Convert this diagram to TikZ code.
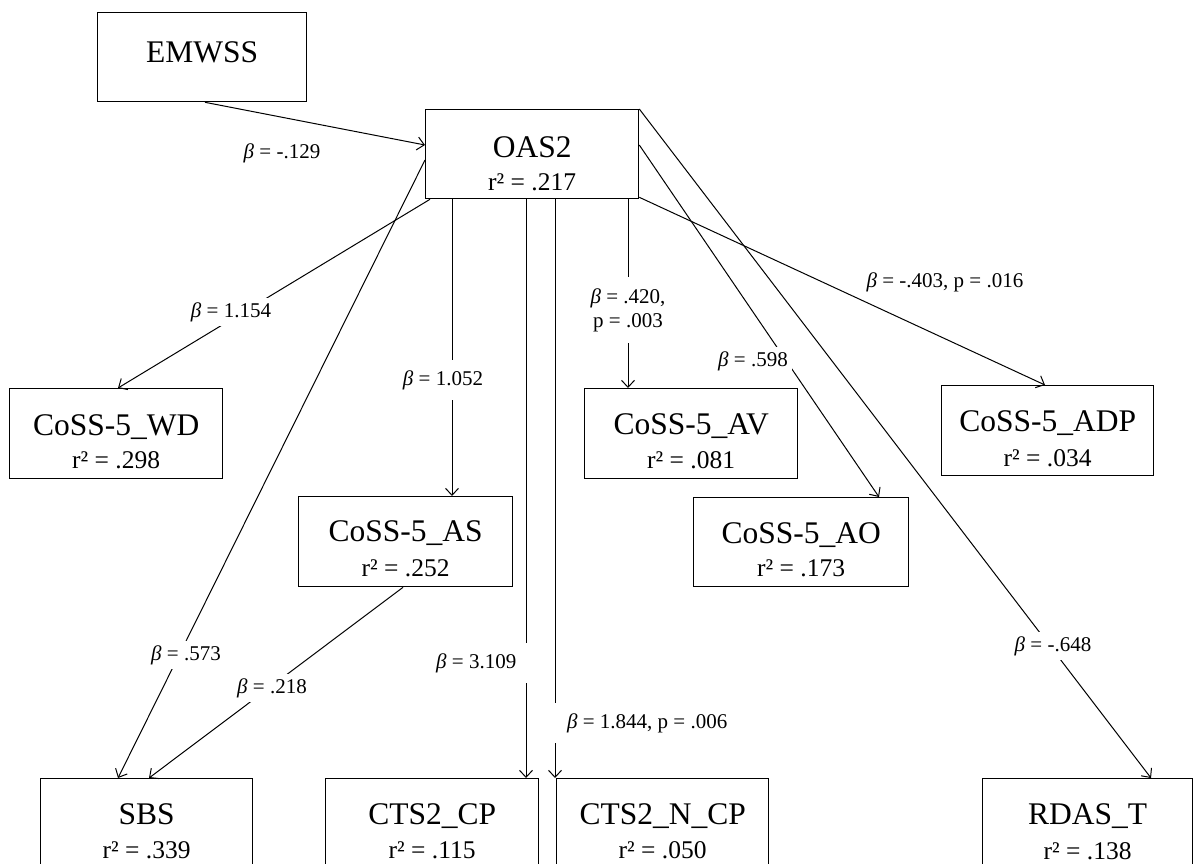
\documentclass[tikz,border=0pt]{standalone}
\usepackage{fontspec}
\setmainfont{Liberation Serif}
\usetikzlibrary{arrows.meta,calc}
\newcommand{\bet}{\textit{β}}
\begin{document}
\begin{tikzpicture}[x=1pt,y=-1pt,
  box/.style={draw, line width=1.3pt, minimum width=#1, minimum height=90pt, anchor=north west, inner sep=0pt},
  conn/.style={line width=1pt, -{Straight Barb[length=7pt,width=13pt,line width=1pt]}},
  nm/.style={font=\fontsize{31.5}{36}\selectfont, inner sep=0pt, anchor=base},
  rr/.style={font=\fontsize{25.5}{28}\selectfont, inner sep=0pt, anchor=base},
  lab/.style={fill=white, inner sep=4pt, font=\fontsize{21}{24}\selectfont}]
\useasboundingbox (0,0) rectangle (1194,863);
\clip (0,0) rectangle (1194,863);
\fill[white] (0,0) rectangle (1194,863);
% boxes
\node[box=209, minimum height=89pt] (emw) at (97,12) {};
\node[nm] (emwt) at ($(emw.north)+(0,50)$) {EMWSS};
\node[box=213, minimum height=89pt] (oas) at (425,109) {};
\node[nm] (oast) at ($(oas.north)+(0,48)$) {OAS2};
\node[rr] (oasr) at ($(oas.north)+(0,81)$) {r² = .217};
\node[box=213] (wd) at (9,388) {};
\node[nm] (wdt) at ($(wd.north)+(0,47)$) {CoSS-5\_WD};
\node[rr] (wdr) at ($(wd.north)+(0,80)$) {r² = .298};
\node[box=214] (as) at (298,496) {};
\node[nm] (ast) at ($(as.north)+(0,45)$) {CoSS-5\_AS};
\node[rr] (asr) at ($(as.north)+(0,80)$) {r² = .252};
\node[box=213] (av) at (584,388) {};
\node[nm] (avt) at ($(av.north)+(0,46)$) {CoSS-5\_AV};
\node[rr] (avr) at ($(av.north)+(0,80)$) {r² = .081};
\node[box=215, minimum height=89pt] (ao) at (693,497) {};
\node[nm] (aot) at ($(ao.north)+(0,46)$) {CoSS-5\_AO};
\node[rr] (aor) at ($(ao.north)+(0,79)$) {r² = .173};
\node[box=212] (adp) at (941,385) {};
\node[nm] (adpt) at ($(adp.north)+(0,46)$) {CoSS-5\_ADP};
\node[rr] (adpr) at ($(adp.north)+(0,81)$) {r² = .034};
\node[box=212, minimum height=92pt] (sbs) at (40,778) {};
\node[nm] (sbst) at ($(sbs.north)+(0,46)$) {SBS};
\node[rr] (sbsr) at ($(sbs.north)+(0,80)$) {r² = .339};
\node[box=213, minimum height=92pt] (cp) at (325,778) {};
\node[nm] (cpt) at ($(cp.north)+(0,46)$) {CTS2\_CP};
\node[rr] (cpr) at ($(cp.north)+(0,80)$) {r² = .115};
\node[box=212, minimum height=92pt] (ncp) at (556,778) {};
\node[nm] (ncpt) at ($(ncp.north)+(0,46)$) {CTS2\_N\_CP};
\node[rr] (ncpr) at ($(ncp.north)+(0,80)$) {r² = .050};
\node[box=210, minimum height=92pt] (rdas) at (982,778) {};
\node[nm] (rdast) at ($(rdas.north)+(0,46)$) {RDAS\_T};
\node[rr] (rdasr) at ($(rdas.north)+(0,81)$) {r² = .138};
% connectors
\draw[conn] ($(emw.south west)+(108,0)$) -- ($(oas.north west)+(0,36)$);
\draw[conn] ($(oas.south west)+(5,0)$) -- ($(wd.north west)+(109,0)$);
\draw[conn] ($(oas.north west)+(0,51)$) -- ($(sbs.north west)+(78,0)$);
\draw[conn] ($(oas.south west)+(27,0)$) -- ($(as.north west)+(154,0)$);
\draw[conn] ($(oas.south west)+(101,0)$) -- ($(cp.north west)+(201,0)$);
\draw[conn] ($(oas.south west)+(130,0)$) -- ($(ncp.north west)+(-1,0)$);
\draw[conn] ($(oas.south west)+(203,0)$) -- ($(av.north west)+(44,0)$);
\draw[conn] ($(oas.north east)+(0,36)$) -- ($(ao.north west)+(186,0)$);
\draw[conn] (oas.north east) -- ($(rdas.north west)+(169,0)$);
\draw[conn] ($(oas.south east)+(0,-2)$) -- ($(adp.north west)+(104,0)$);
\draw[conn] ($(as.south west)+(105,0)$) -- ($(sbs.north west)+(109,0)$);
% labels
\node[lab, fill=none] (l1) at (282,153) {\bet{} = -.129};
\node[lab] (l2) at (231,312) {\bet{} = 1.154};
\node[lab] (l3) at (186,655) {\bet{} = .573};
\node[lab, inner ysep=10pt] (l4) at (443,380) {\bet{} = 1.052};
\node[lab, anchor=west, minimum height=40pt] (l5) at (432,663) {\bet{} = 3.109\hspace*{10pt}};
\node[lab, anchor=west, minimum height=40pt] (l6) at (550,723) {\hspace*{13pt}\bet{} = 1.844, p = .006};
\node[lab, align=center, minimum height=66pt, inner xsep=2pt] (l7) at (628,310) {\bet{} = .420,\\p = .003};
\node[lab] (l8) at (753,361) {\bet{} = .598};
\node[lab] (l9) at (1053,646) {\bet{} = -.648};
\node[lab, fill=none] (l10) at (945,282) {\bet{} = -.403, p = .016};
\node[lab] (l11) at (272,688) {\bet{} = .218};
\end{tikzpicture}
\end{document}
